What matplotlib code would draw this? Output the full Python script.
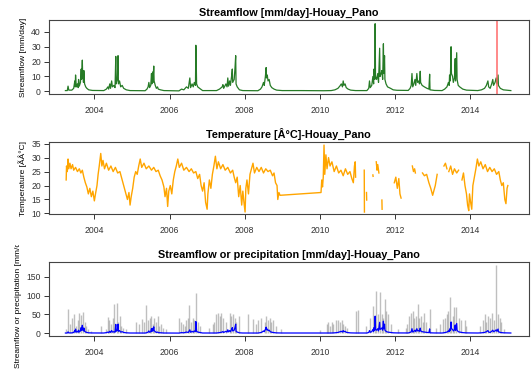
import numpy as np
import matplotlib
matplotlib.use("Agg")
import matplotlib.pyplot as plt
from matplotlib.transforms import Bbox, TransformedBbox

plt.rcParams['font.family'] = ['Liberation Sans', 'DejaVu Sans']

nan = np.nan

# streamflow [mm/day] (decimal years)
q_year = [2003.23, 2003.28, 2003.30, 2003.32, 2003.40, 2003.45, 2003.48, 2003.49, 2003.50, 2003.52,
          2003.55, 2003.57, 2003.58, 2003.60, 2003.63, 2003.65, 2003.66, 2003.68, 2003.69, 2003.70,
          2003.71, 2003.72, 2003.74, 2003.77, 2003.80, 2003.85, 2003.95,
          2004.25, 2004.32, 2004.36, 2004.38, 2004.41, 2004.43, 2004.46, 2004.48, 2004.52, 2004.55,
          2004.57, 2004.58, 2004.61, 2004.63, 2004.64, 2004.67, 2004.70, 2004.74, 2004.78, 2004.85, 2004.95,
          2005.35, 2005.40, 2005.43, 2005.45, 2005.47, 2005.50, 2005.52, 2005.53, 2005.55, 2005.56,
          2005.58, 2005.59, 2005.62, 2005.65, 2005.68, 2005.70, 2005.76, 2005.85,
          2006.25, 2006.32, 2006.38, 2006.45, 2006.50, 2006.54, 2006.56, 2006.60, 2006.63, 2006.66,
          2006.69, 2006.70, 2006.71, 2006.72, 2006.75, 2006.80, 2006.88,
          2007.25, 2007.33, 2007.40, 2007.42, 2007.44, 2007.50, 2007.53, 2007.55, 2007.57, 2007.60,
          2007.62, 2007.65, 2007.67, 2007.68, 2007.72, 2007.74, 2007.76, 2007.77, 2007.80, 2007.86, 2007.95,
          2008.35, 2008.42, 2008.46, 2008.50, 2008.52, 2008.55, 2008.57, 2008.58, 2008.60, 2008.62,
          2008.65, 2008.68, 2008.72, 2008.78, 2008.85, 2009.00, 2009.50, 2010.10,
          2010.30, 2010.40, 2010.48, 2010.53, 2010.57, 2010.60, 2010.62, 2010.64, 2010.67, 2010.70,
          2010.75, 2010.82, 2010.95,
          2011.25, 2011.30, 2011.32, 2011.34, 2011.38, 2011.41, 2011.43, 2011.44, 2011.46, 2011.47,
          2011.48, 2011.51, 2011.54, 2011.56, 2011.59, 2011.60, 2011.63, 2011.65, 2011.67, 2011.69,
          2011.70, 2011.72, 2011.73, 2011.76, 2011.80, 2011.88, 2011.95, 2012.05,
          2012.35, 2012.40, 2012.43, 2012.45, 2012.47, 2012.50, 2012.53, 2012.55, 2012.58, 2012.60,
          2012.63, 2012.65, 2012.67, 2012.68, 2012.72, 2012.78, 2012.85, 2012.90, 2012.92, 2012.93, 2013.05,
          2013.25, 2013.32, 2013.38, 2013.42, 2013.44, 2013.45, 2013.47, 2013.49, 2013.50, 2013.53,
          2013.55, 2013.58, 2013.60, 2013.61, 2013.64, 2013.65, 2013.68, 2013.72, 2013.80, 2013.90,
          2014.20, 2014.30, 2014.38, 2014.43, 2014.47, 2014.49, 2014.53, 2014.57, 2014.60, 2014.62,
          2014.66, 2014.69, 2014.71, 2014.74, 2014.75, 2014.80, 2014.88, 2015.08]
q_mm = [0.5, 0.5, 3.5, 0.8, 0.8, 2, 7, 3, 11, 3,
        5, 2.5, 8, 3.5, 6, 15, 8, 21, 9, 12,
        6, 14, 5, 3, 2, 1, 0.6,
        0.5, 1.5, 3, 1.5, 5, 2, 7, 3, 4, 2.5,
        23.5, 5, 8, 24, 5, 7, 3, 4, 2, 1, 0.5,
        0.4, 1.5, 3, 6, 2.5, 4, 12, 5, 13, 6,
        17, 7, 4, 2, 3, 1.5, 1, 0.5,
        0.3, 1.5, 1, 3, 2, 9, 2.5, 5, 3, 6,
        4, 31, 20, 5, 3, 2, 0.5,
        0.5, 1.5, 3, 4.5, 2, 5, 3, 9, 3.5, 7,
        4, 10, 15, 6, 8, 15, 24, 5, 3, 1, 0.5,
        0.4, 1.5, 3, 6, 4, 10, 16, 9, 11, 7,
        8, 4, 2.5, 1.5, 0.8, 0.5, 0.5, 0.4,
        0.5, 1, 2, 3.5, 5, 3, 7, 4, 5, 2.5,
        1.5, 0.8, 0.5,
        0.5, 2, 7, 2.5, 4, 10, 5, 15, 8, 45.5,
        10, 8, 12, 6, 29, 10, 12, 14, 8, 32,
        12, 24, 8, 5, 3, 2, 1, 0.7,
        0.6, 2, 4, 12, 3, 5, 8, 4, 12, 6,
        7, 5, 13.5, 6, 4, 3, 2, 1.5, 11.5, 1, 0.6,
        0.5, 1.5, 3, 6, 4, 11, 7, 30, 12, 10,
        6, 9, 22, 7, 26, 8, 4, 3, 1.5, 0.8,
        0.5, 1, 2, 4, 7, 3, 2, 5, 8, 4,
        6, 9, 5, 11, 4, 2, 1, 0.5]

# temperature [deg C], NaN marks the gaps in the record
t_year = [2003.25, 2003.26, 2003.28, 2003.30, 2003.32, 2003.35, 2003.38, 2003.42, 2003.45, 2003.50,
          2003.55, 2003.60, 2003.64, 2003.68, 2003.72, 2003.76, 2003.80, 2003.84, 2003.88, 2003.92,
          2003.96, 2004.00, 2004.03,
          2004.07, 2004.10, 2004.13, 2004.17, 2004.20, 2004.23, 2004.27, 2004.32, 2004.38, 2004.44,
          2004.50, 2004.56, 2004.62, 2004.68, 2004.72, 2004.76, 2004.80, 2004.84, 2004.88, 2004.92,
          2004.95, 2004.98,
          2005.02, 2005.06, 2005.10, 2005.14, 2005.18, 2005.22, 2005.26, 2005.32, 2005.38, 2005.45,
          2005.52, 2005.58, 2005.64, 2005.70, 2005.75, 2005.80, 2005.85, 2005.88, 2005.92, 2005.95, 2005.98,
          2006.02, 2006.06, 2006.10, 2006.14, 2006.18, 2006.22, 2006.26, 2006.32, 2006.38, 2006.45,
          2006.52, 2006.58, 2006.64, 2006.70, 2006.75, 2006.80, 2006.84, 2006.88, 2006.92, 2006.96,
          2007.00, 2007.02,
          2007.06, 2007.10, 2007.14, 2007.18, 2007.22, 2007.26, 2007.30, 2007.36, 2007.42, 2007.48,
          2007.55, 2007.62, 2007.68, 2007.72, 2007.76, 2007.80, 2007.84, 2007.88, 2007.92, 2007.95,
          2007.98, 2008.01, 2008.03,
          2008.06, 2008.10, 2008.14, 2008.18, 2008.22, 2008.26, 2008.32, 2008.38, 2008.44, 2008.50,
          2008.56, 2008.62, 2008.68, 2008.74, 2008.78, 2008.82, 2008.86, 2008.88, 2008.91, 2008.94,
          2010.03,
          2010.05, 2010.07, 2010.09, 2010.11, 2010.13, 2010.16, 2010.19, 2010.23, 2010.27, 2010.32,
          2010.38, 2010.44, 2010.50, 2010.56, 2010.62, 2010.68, 2010.74, 2010.80, 2010.85, 2010.89,
          2010.92, 2010.94, 2010.95, nan,
          2011.18, 2011.185, nan, 2011.24, 2011.245, nan, 2011.41, 2011.415, nan,
          2011.50, 2011.52, 2011.54, 2011.57, nan, 2011.65, 2011.655, nan,
          2011.98, 2012.02, 2012.06, 2012.10, 2012.13, 2012.16, nan,
          2012.46, 2012.49, 2012.52, 2012.54, nan,
          2012.73, 2012.78, 2012.84, 2012.90, 2012.95, 2013.00, 2013.03, 2013.07, 2013.10, 2013.12, nan,
          2013.30, 2013.34, 2013.38, nan,
          2013.43, 2013.48, 2013.53, 2013.58, 2013.64, 2013.69, nan,
          2013.78, 2013.82, 2013.86, 2013.90, 2013.93, 2013.96, 2013.98, 2014.01, 2014.04, 2014.07,
          2014.11, 2014.15, 2014.19, 2014.23, 2014.28, 2014.34, 2014.40, 2014.46, 2014.52, 2014.58,
          2014.64, 2014.70, 2014.76, 2014.80, 2014.84, 2014.88, 2014.92, 2014.95, 2014.98, 2015.00]
t_c = [22, 27, 25, 29.5, 26, 28, 26, 27.5, 25.5, 26.5,
       25, 26, 24.5, 25.5, 23, 21, 19.5, 17, 19, 16,
       18, 14.5, 17,
       20, 24, 27, 31.5, 27, 29, 26, 28, 25.5, 27,
       25, 26.5, 24.5, 25, 23, 21, 19, 17, 15, 17.5,
       13, 16,
       19, 23, 25, 24, 27, 29.5, 26.5, 28, 26, 27,
       25.5, 26.5, 25, 25.5, 23.5, 22, 19.5, 16, 19, 12.5, 18,
       20, 17, 22, 25, 27, 29.5, 26.5, 28, 25.5, 26.5,
       25, 26, 24.5, 25, 22.5, 24, 20, 18, 21, 14,
       11.5, 17,
       22, 19, 24, 27, 30.5, 26, 28.5, 26, 27.5, 25.5,
       26.5, 24.5, 25.5, 23, 21, 23, 16, 20, 13, 18,
       14, 10.5, 19,
       22, 17, 24, 26, 28, 24.5, 26.5, 25, 26.5, 24.5,
       26, 25, 25.5, 23.5, 24.5, 21, 20, 15, 17.5, 16.5,
       17.5,
       22, 19.5, 23, 34.5, 24, 31, 26, 30, 27, 28.5,
       25, 27, 24.5, 25.5, 23.5, 26, 24, 25, 22.5, 21,
       27, 28.5, 23, nan,
       25.5, 10.5, nan, 17.5, 14.8, nan, 23.8, 23.3, nan,
       28.5, 25.5, 27.5, 24.5, nan, 14.8, 11.5, nan,
       21, 23, 19, 22.5, 17, 15.5, nan,
       27, 25, 26, 24.5, nan,
       24.5, 23.5, 24, 21, 19, 16.5, 18, 20, 22.5, 24, nan,
       27, 28, 26, nan,
       25, 27, 24, 26, 24.5, 25.5, nan,
       22, 24.5, 20, 17, 13, 11, 17, 14, 11.5, 20,
       23, 26, 29.5, 27, 28.5, 26, 27.5, 25, 26.5, 25,
       26, 24, 25, 22, 20, 21, 15, 13.5, 19, 20]

# precipitation [mm/day], daily spikes
p_year = [2003.25, 2003.29, 2003.35, 2003.41, 2003.47, 2003.52, 2003.56, 2003.60, 2003.65, 2003.69,
          2003.74, 2003.78, 2003.83, 2003.92, 2004.18,
          2004.31, 2004.36, 2004.40, 2004.44, 2004.49, 2004.53, 2004.59, 2004.63, 2004.67, 2004.71,
          2004.77, 2004.84,
          2005.11, 2005.20, 2005.27, 2005.33, 2005.38, 2005.42, 2005.47, 2005.51, 2005.56, 2005.60,
          2005.64, 2005.69, 2005.73, 2005.78, 2005.82, 2005.91,
          2006.26, 2006.31, 2006.35, 2006.40, 2006.44, 2006.49, 2006.53, 2006.58, 2006.62, 2006.66,
          2006.71, 2006.75, 2006.80,
          2007.06, 2007.15, 2007.19, 2007.24, 2007.28, 2007.33, 2007.37, 2007.42, 2007.51, 2007.60,
          2007.64, 2007.69, 2007.73, 2007.77, 2007.84,
          2008.08, 2008.22, 2008.31, 2008.35, 2008.44, 2008.53, 2008.57, 2008.62, 2008.66, 2008.71,
          2008.75, 2008.84, 2008.97,
          2010.00, 2010.18, 2010.22, 2010.27, 2010.31, 2010.36, 2010.44, 2010.49, 2010.53, 2010.58,
          2010.62, 2010.67, 2010.71,
          2010.97, 2011.02, 2011.24, 2011.32, 2011.41, 2011.46, 2011.48, 2011.55, 2011.59, 2011.64,
          2011.68, 2011.72, 2011.77, 2011.81, 2011.90,
          2012.07, 2012.29, 2012.33, 2012.38, 2012.42, 2012.47, 2012.51, 2012.56, 2012.61, 2012.65,
          2012.69, 2012.74, 2012.78, 2012.83, 2012.92,
          2013.10, 2013.19, 2013.28, 2013.32, 2013.37, 2013.41, 2013.45, 2013.50, 2013.54, 2013.58,
          2013.63, 2013.70, 2013.76, 2013.85, 2013.90,
          2014.25, 2014.34, 2014.38, 2014.43, 2014.47, 2014.52, 2014.59, 2014.63, 2014.69, 2014.74,
          2014.78, 2014.83, 2014.89]
p_mm = [12, 65, 25, 40, 50, 20, 35, 55, 48, 57,
        30, 20, 10, 5, 20,
        10, 43, 35, 25, 40, 78, 80, 30, 45, 20,
        15, 10,
        30, 25, 38, 30, 75, 35, 40, 45, 25, 40,
        30, 45, 20, 25, 15, 10,
        40, 30, 25, 20, 35, 40, 75, 30, 40, 35,
        107, 30, 20,
        15, 25, 30, 50, 55, 45, 55, 40, 30, 55,
        45, 50, 40, 30, 45,
        50, 38, 25, 35, 40, 30, 45, 35, 40, 30,
        35, 20, 10,
        8, 25, 30, 20, 30, 25, 35, 35, 30, 35,
        25, 20, 15,
        60, 62, 20, 40, 73, 30, 112, 50, 110, 50,
        40, 90, 60, 50, 25,
        10, 15, 25, 45, 55, 60, 40, 45, 78, 40,
        45, 30, 55, 30, 65,
        15, 25, 38, 40, 50, 60, 97, 30, 45, 70,
        70, 40, 35, 35, 20,
        20, 35, 50, 30, 45, 40, 55, 35, 182, 50,
        40, 30, 10]

marker_year = 2014.72
year_ticks = [2004, 2006, 2008, 2010, 2012, 2014]

fig = plt.figure(figsize=(5.31, 3.69), dpi=100)

left = 48.5 / 531
width = (528.5 - 48.5) / 531
ax1 = fig.add_axes([left, 1 - 94 / 369, width, 74 / 369])
ax2 = fig.add_axes([left, 1 - 214 / 369, width, 72 / 369])
ax3 = fig.add_axes([left, 1 - 336 / 369, width, 74 / 369])

ax1.plot(q_year, q_mm, color='#006400', lw=0.9, alpha=0.85)
ax1.axvline(marker_year, color='#ff6666', lw=1.2, alpha=0.9)
ax1.set_ylim(-1.8, 48)
ax1.set_yticks([0, 10, 20, 30, 40])
ax1.set_title('Streamflow [mm/day]-Houay_Pano', fontsize=7.8, fontweight='bold', pad=3)
ax1.set_ylabel('Streamflow [mm/day]', fontsize=6, labelpad=3)

ax2.plot(t_year, t_c, color='#ffa500', lw=1.0)
ax2.set_ylim(9.8, 35.6)
ax2.set_yticks([10, 15, 20, 25, 30, 35])
ax2.set_title('Temperature [Â°C]-Houay_Pano', fontsize=7.8, fontweight='bold', pad=3)
ax2.set_ylabel('Temperature [ÃÂ°C]', fontsize=6, labelpad=3)

ax3.vlines(p_year, 0, p_mm, color='#8c8c8c', lw=1.0, alpha=0.55)
ax3.plot(q_year, q_mm, color='#0000ff', lw=0.9)
ax3.set_ylim(-7.5, 190)
ax3.set_yticks([0, 50, 100, 150])
ax3.set_title('Streamflow or precipitation [mm/day]-Houay_Pano', fontsize=7.8, fontweight='bold', pad=3)
lab = ax3.set_ylabel('Streamflow or precipitation [mm/day]', fontsize=6, labelpad=3)
lab.set_clip_box(TransformedBbox(Bbox([[0, 0], [1, (369 - 245) / 369]]), fig.transFigure))
lab.set_clip_on(True)

for ax in (ax1, ax2, ax3):
    ax.set_xlim(2002.78, 2015.55)
    ax.set_xticks(year_ticks)
    ax.tick_params(direction='out', length=3.5, width=0.7, labelsize=6.2,
                   colors='#333333', pad=2)
    ax.tick_params(axis='x', pad=5)
    for s in ax.spines.values():
        s.set_color('#444444')
        s.set_linewidth(0.8)

fig.savefig('out.png', dpi=100)
plt.close()
